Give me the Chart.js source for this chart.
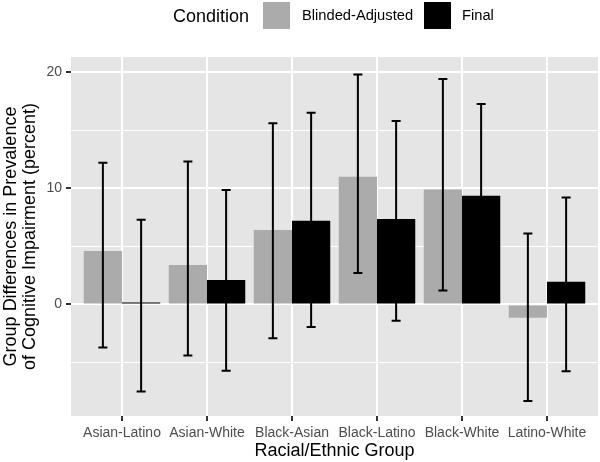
<!DOCTYPE html>
<html>
<head>
<meta charset="utf-8">
<script src="https://cdn.jsdelivr.net/npm/chart.js@4/dist/chart.umd.min.js"></script>
<style>
  body { margin: 0; background: #fff; }
  #wrap { position: relative; width: 600px; height: 462px; font-family: "Liberation Sans", Arial, sans-serif; }
  #legend span { position: absolute; color: #000; white-space: nowrap; line-height: 1; }
  #legend .box { width: 27px; height: 27px; top: 2px; }
</style>
</head>
<body>
<div id="wrap">
  <canvas id="groupChart" width="600" height="462"></canvas>
  <div id="legend">
    <span style="left:173px; top:6.5px; font-size:18px;">Condition</span>
    <span class="box" style="left:263px; background:#ababab;"></span>
    <span style="left:302px; top:8.3px; font-size:14.7px;">Blinded-Adjusted</span>
    <span class="box" style="left:424px; background:#000;"></span>
    <span style="left:462px; top:8.3px; font-size:14.7px;">Final</span>
  </div>
</div>
<script>
// ---- data ----
const categories = ["Asian-Latino", "Asian-White", "Black-Asian", "Black-Latino", "Black-White", "Latino-White"];
const blindedAdjusted = [4.6, 3.4, 6.4, 11.0, 9.9, -1.15];
const blindedLow = [-3.7, -4.4, -2.9, 2.7, 1.2, -8.3];
const blindedHigh = [12.2, 12.3, 15.6, 19.8, 19.4, 6.1];
const finalValues = [0.17, 2.1, 7.2, 7.35, 9.35, 1.95];
const finalLow = [-7.5, -5.7, -1.95, -1.4, 1.5, -5.75];
const finalHigh = [7.3, 9.85, 16.5, 15.8, 17.25, 9.2];

const errLow = [blindedLow, finalLow];
const errHigh = [blindedHigh, finalHigh];

// grey panel behind the plot
const panelBg = {
  id: "panelBg",
  beforeDraw(chart) {
    const { ctx, chartArea: a } = chart;
    ctx.save();
    ctx.fillStyle = "#e5e5e5";
    ctx.fillRect(a.left, a.top, a.right - a.left, a.bottom - a.top);
    ctx.restore();
  },
};

// error bars, drawn from the y scale
const errorBars = {
  id: "errorBars",
  afterDatasetsDraw(chart) {
    const { ctx } = chart;
    const y = chart.scales.y;
    ctx.save();
    ctx.strokeStyle = "#000";
    ctx.lineWidth = 2;
    chart.data.datasets.forEach((ds, d) => {
      chart.getDatasetMeta(d).data.forEach((bar, i) => {
        const top = y.getPixelForValue(errHigh[d][i]);
        const bot = y.getPixelForValue(errLow[d][i]);
        const cap = 4.5;
        ctx.beginPath();
        ctx.moveTo(bar.x, top);
        ctx.lineTo(bar.x, bot);
        ctx.moveTo(bar.x - cap, top);
        ctx.lineTo(bar.x + cap, top);
        ctx.moveTo(bar.x - cap, bot);
        ctx.lineTo(bar.x + cap, bot);
        ctx.stroke();
      });
    });
    ctx.restore();
  },
};

const fontFamily = "'Liberation Sans', Arial, sans-serif";

const groupChart = new Chart(document.getElementById("groupChart"), {
  type: "bar",
  data: {
    datasets: [
      {
        label: "Blinded-Adjusted",
        data: categories.map((c, i) => ({ x: i, y: blindedAdjusted[i] })),
        backgroundColor: "#ababab",
      },
      {
        label: "Final",
        data: categories.map((c, i) => ({ x: i, y: finalValues[i] })),
        backgroundColor: "#000000",
      },
    ],
  },
  options: {
    responsive: false,
    animation: false,
    categoryPercentage: 0.9,
    barPercentage: 1.0,
    layout: { padding: { top: 57, right: 2, left: 0, bottom: 0 } },
    plugins: {
      legend: { display: false },
      tooltip: { enabled: false },
    },
    scales: {
      x: {
        type: "linear",
        offset: false,
        min: -0.6,
        max: 5.6,
        border: { display: false },
        grid: {
          offset: false,
          color: "#ffffff",
          lineWidth: 2,
          tickLength: 5,
          tickColor: "#333333",
        },
        ticks: {
          stepSize: 1,
          includeBounds: false,
          autoSkip: false,
          maxRotation: 0,
          padding: 4,
          color: "#4d4d4d",
          font: { family: fontFamily, size: 14 },
          callback: (v) => categories[v] ?? "",
        },
        title: {
          display: true,
          text: "Racial/Ethnic Group",
          color: "#000",
          font: { family: fontFamily, size: 18 },
          padding: { top: 0, bottom: 0 },
        },
        afterFit(scale) { scale.height = 46; },
      },
      y: {
        min: -9.6,
        max: 21.3,
        border: { display: false },
        grid: {
          color: "#ffffff",
          lineWidth: (ctx) => (ctx.tick && ctx.tick.value % 10 === 0 ? 2 : 1),
          tickLength: 5,
          tickColor: (ctx) => (ctx.tick && ctx.tick.value % 10 === 0 ? "#333333" : "rgba(0,0,0,0)"),
        },
        ticks: {
          stepSize: 5,
          includeBounds: false,
          padding: 4,
          color: "#4d4d4d",
          font: { family: fontFamily, size: 14 },
          callback: (v) => (v % 10 === 0 ? String(v) : ""),
        },
        title: {
          display: true,
          text: ["Group Differences in Prevalence", "of Cognitive Impairment (percent)"],
          color: "#000",
          font: { family: fontFamily, size: 18, lineHeight: 1.05 },
          padding: { top: 2, bottom: 0 },
        },
        afterFit(scale) { scale.width = 71; },
      },
    },
  },
  plugins: [panelBg, errorBars],
});
</script>
</body>
</html>
